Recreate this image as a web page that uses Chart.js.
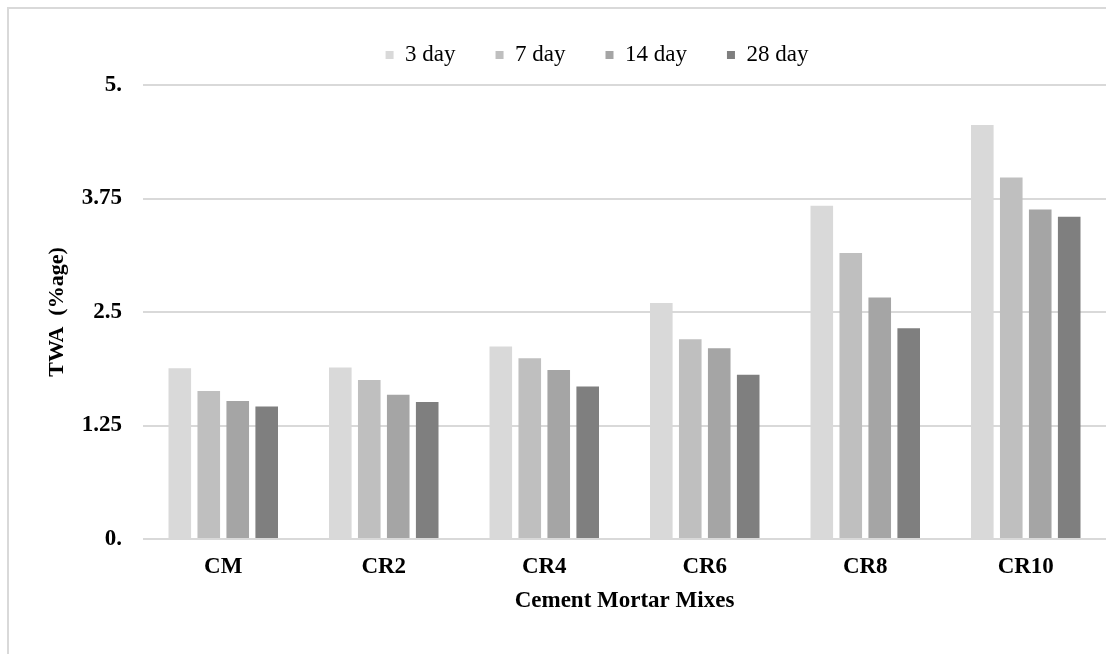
<!DOCTYPE html>
<html><head><meta charset="utf-8">
<script src="https://cdn.jsdelivr.net/npm/chart.js@4/dist/chart.umd.min.js"></script>
<style>html,body{margin:0;padding:0;background:#fff;}#wrap{width:1106px;height:654px;}</style>
</head><body><div id="wrap"><canvas id="c" width="1106" height="654"></canvas></div>
<script>
const categories = ['CM', 'CR2', 'CR4', 'CR6', 'CR8', 'CR10'];
const seriesNames = ['3 day', '7 day', '14 day', '28 day'];
const day3 = [1.88, 1.89, 2.12, 2.60, 3.67, 4.56];
const day7 = [1.63, 1.75, 1.99, 2.20, 3.15, 3.98];
const day14 = [1.52, 1.59, 1.86, 2.10, 2.66, 3.63];
const day28 = [1.46, 1.51, 1.68, 1.81, 2.32, 3.55];
const yTickValues = [0, 1.25, 2.5, 3.75, 5];
const yTickLabels = ['0.', '1.25', '2.5', '3.75', '5.'];
const seriesColors = ['#d9d9d9', '#bfbfbf', '#a5a5a5', '#7f7f7f'];

const FONT = 'Liberation Serif';
const seriesData = [day3, day7, day14, day28];

const framePlugin = {
  id: 'frame',
  beforeLayout(chart) {
    const lg = chart.legend;
    if (lg && !lg._patched) {
      const f = lg.fit.bind(lg);
      lg.fit = function () { f(); this.height = 85; };
      lg._patched = true;
    }
  },
  afterLayout(chart) {
    const lg = chart.legend;
    if (lg) { lg.left += 44; lg.right += 44; lg.top += 3.5; lg.bottom += 3.5; }
  },
  beforeDraw(chart) {
    const ctx = chart.ctx;
    ctx.save();
    ctx.fillStyle = '#ffffff';
    ctx.fillRect(0, 0, chart.width, chart.height);
    ctx.strokeStyle = '#d9d9d9';
    ctx.lineWidth = 2;
    ctx.beginPath();
    ctx.moveTo(7, 8); ctx.lineTo(chart.width, 8);
    ctx.moveTo(8, 8); ctx.lineTo(8, chart.height);
    ctx.stroke();
    ctx.restore();
  }
};

new Chart(document.getElementById('c'), {
  type: 'bar',
  data: {
    labels: categories,
    datasets: seriesNames.map((n, i) => ({
      label: n,
      data: seriesData[i],
      backgroundColor: seriesColors[i],
      borderWidth: 0,
      barPercentage: 0.78,
      categoryPercentage: 0.722
    }))
  },
  options: {
    responsive: false,
    animation: false,
    devicePixelRatio: 1,
    events: [],
    layout: { padding: 0 },
    plugins: {
      tooltip: { enabled: false },
      legend: {
        position: 'top',
        align: 'center',
        labels: {
          boxWidth: 8, boxHeight: 8, padding: 40,
          color: '#000',
          font: { family: FONT, size: 23 }
        }
      }
    },
    scales: {
      x: {
        grid: { display: false, drawTicks: false },
        border: { display: false },
        ticks: { color: '#000', padding: 14, font: { family: FONT, size: 23, weight: 'bold' } },
        title: { display: true, text: 'Cement Mortar Mixes', color: '#000',
                 font: { family: FONT, size: 23, weight: 'bold' }, padding: { top: 0, bottom: 39 } },
        afterFit(s) { s.height = 115; }
      },
      y: {
        min: 0, max: 5,
        afterBuildTicks(s) { s.ticks = yTickValues.map(v => ({ value: v })); },
        ticks: {
          color: '#000', padding: 21,
          font: { family: FONT, size: 23, weight: 'bold' },
          callback: (v) => yTickLabels[yTickValues.indexOf(v)]
        },
        grid: { color: '#d9d9d9', lineWidth: 2, drawTicks: false },
        border: { display: false },
        title: { display: true, text: 'TWA  (%age)', color: '#000',
                 font: { family: FONT, size: 22, weight: 'bold' }, padding: { top: 44, bottom: 0 } },
        afterFit(s) { s.width = 143; }
      }
    }
  },
  plugins: [framePlugin]
});
</script></body></html>
